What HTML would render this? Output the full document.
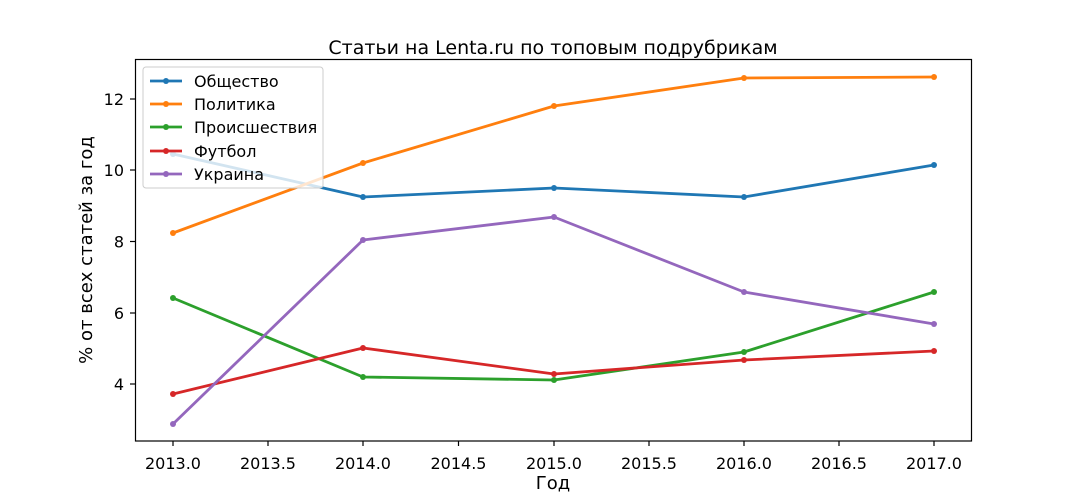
<!DOCTYPE html>
<html><head><meta charset="utf-8"><style>body{margin:0;background:#fff}svg{display:block}text{font-family:"DejaVu Sans","Liberation Sans",sans-serif;fill:#000}</style></head><body>
<svg width="1080" height="504" viewBox="0 0 1080 504">
<text x="553" y="54" font-size="19" text-anchor="middle">Статьи на Lenta.ru по топовым подрубрикам</text>
<g fill="none" stroke-width="2.8" stroke-linejoin="round">
<polyline stroke="#1f77b4" points="173,154 363,197 554,188 744,197 934,165"/>
<polyline stroke="#ff7f0e" points="173,233 363,163 554,106 744,78 934,77"/>
<polyline stroke="#2ca02c" points="173,298 363,377 554,380 744,352 934,292"/>
<polyline stroke="#d62728" points="173,394 363,348 554,374 744,360 934,351"/>
<polyline stroke="#9467bd" points="173,424 363,240 554,217 744,292 934,324"/>
</g>
<g fill="#1f77b4"><circle cx="173" cy="154" r="3"/><circle cx="363" cy="197" r="3"/><circle cx="554" cy="188" r="3"/><circle cx="744" cy="197" r="3"/><circle cx="934" cy="165" r="3"/></g>
<g fill="#ff7f0e"><circle cx="173" cy="233" r="3"/><circle cx="363" cy="163" r="3"/><circle cx="554" cy="106" r="3"/><circle cx="744" cy="78" r="3"/><circle cx="934" cy="77" r="3"/></g>
<g fill="#2ca02c"><circle cx="173" cy="298" r="3"/><circle cx="363" cy="377" r="3"/><circle cx="554" cy="380" r="3"/><circle cx="744" cy="352" r="3"/><circle cx="934" cy="292" r="3"/></g>
<g fill="#d62728"><circle cx="173" cy="394" r="3"/><circle cx="363" cy="348" r="3"/><circle cx="554" cy="374" r="3"/><circle cx="744" cy="360" r="3"/><circle cx="934" cy="351" r="3"/></g>
<g fill="#9467bd"><circle cx="173" cy="424" r="3"/><circle cx="363" cy="240" r="3"/><circle cx="554" cy="217" r="3"/><circle cx="744" cy="292" r="3"/><circle cx="934" cy="324" r="3"/></g>
<rect x="135.5" y="59.5" width="836" height="381.5" fill="none" stroke="#000" stroke-width="1.2"/>
<g stroke="#000" stroke-width="1.2">
<line x1="173" y1="441" x2="173" y2="446"/><line x1="268" y1="441" x2="268" y2="446"/><line x1="363" y1="441" x2="363" y2="446"/><line x1="458.5" y1="441" x2="458.5" y2="446"/><line x1="554" y1="441" x2="554" y2="446"/><line x1="649" y1="441" x2="649" y2="446"/><line x1="744" y1="441" x2="744" y2="446"/><line x1="839" y1="441" x2="839" y2="446"/><line x1="934" y1="441" x2="934" y2="446"/>
<line x1="130" y1="384" x2="135.5" y2="384"/><line x1="130" y1="313" x2="135.5" y2="313"/><line x1="130" y1="241.5" x2="135.5" y2="241.5"/><line x1="130" y1="170" x2="135.5" y2="170"/><line x1="130" y1="99" x2="135.5" y2="99"/>
</g>
<g font-size="16" text-anchor="middle">
<text x="173" y="469">2013.0</text><text x="268" y="469">2013.5</text><text x="363" y="469">2014.0</text><text x="458.5" y="469">2014.5</text><text x="554" y="469">2015.0</text><text x="649" y="469">2015.5</text><text x="744" y="469">2016.0</text><text x="839" y="469">2016.5</text><text x="934" y="469">2017.0</text>
</g>
<g font-size="16" text-anchor="end">
<text x="124" y="390">4</text><text x="124" y="319">6</text><text x="124" y="247.5">8</text><text x="124" y="176">10</text><text x="124" y="105">12</text>
</g>
<text x="553" y="489" font-size="18" text-anchor="middle">Год</text>
<text transform="translate(92,250) rotate(-90)" font-size="18" text-anchor="middle">% от всех статей за год</text>
<rect x="143" y="67" width="180" height="121" rx="3" fill="#fff" fill-opacity="0.8" stroke="#ccc" stroke-width="1"/>
<g stroke-width="2.8">
<line x1="150" y1="81" x2="182" y2="81" stroke="#1f77b4"/><line x1="150" y1="104" x2="182" y2="104" stroke="#ff7f0e"/><line x1="150" y1="127" x2="182" y2="127" stroke="#2ca02c"/><line x1="150" y1="151" x2="182" y2="151" stroke="#d62728"/><line x1="150" y1="174" x2="182" y2="174" stroke="#9467bd"/>
</g>
<circle cx="166" cy="81" r="3" fill="#1f77b4"/><circle cx="166" cy="104" r="3" fill="#ff7f0e"/><circle cx="166" cy="127" r="3" fill="#2ca02c"/><circle cx="166" cy="151" r="3" fill="#d62728"/><circle cx="166" cy="174" r="3" fill="#9467bd"/>
<g font-size="16">
<text x="194" y="87">Общество</text><text x="194" y="110">Политика</text><text x="194" y="133">Происшествия</text><text x="194" y="157">Футбол</text><text x="194" y="180">Украина</text>
</g>
</svg>
</body></html>
